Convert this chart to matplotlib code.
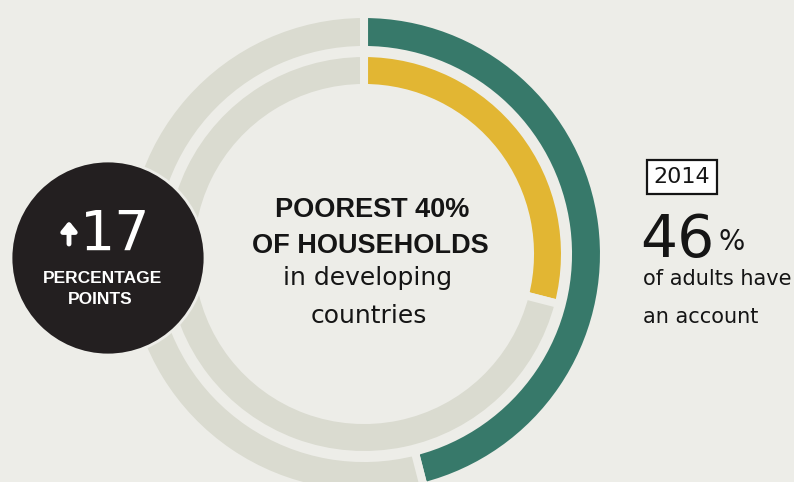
import matplotlib
matplotlib.use("Agg")
import matplotlib.pyplot as plt
from matplotlib.patches import Circle

# data
ring_labels = ["2014", "2011"]
outer_values = [46, 54]   # share of adults with an account (outer ring)
inner_values = [29, 71]   # inner ring
change_pts = 17

bg = "#EDEDE8"
gray = "#DADBD0"
green = "#37796A"
yellow = "#E2B633"
dark = "#231F20"
ink = "#151515"

W, H = 794, 482
fig = plt.figure(figsize=(W / 100, H / 100), dpi=100, facecolor=bg)
ax = fig.add_axes([0, 0, 1, 1])
ax.set_facecolor(bg)

cx, cy = 364, H - 254
gap_lw = 5.8

ax.pie(outer_values, colors=[green, gray], startangle=90, counterclock=False,
       radius=240, center=(cx, cy),
       wedgeprops=dict(width=36, edgecolor=bg, linewidth=gap_lw))
ax.pie(inner_values, colors=[yellow, gray], startangle=90, counterclock=False,
       radius=201, center=(cx, cy),
       wedgeprops=dict(width=35, edgecolor=bg, linewidth=gap_lw))

ax.add_patch(Circle((108, H - 258), 97, facecolor=dark, edgecolor=bg, lw=2, zorder=5))

ax.set_xlim(0, W)
ax.set_ylim(0, H)
ax.set_aspect("equal")
ax.axis("off")

bold = "Liberation Sans"
light = "DejaVu Sans"

# centre label
ax.text(372, H - 217, "POOREST 40%", ha="center", va="baseline", fontsize=19.5,
        family=bold, weight="bold", color=ink)
ax.text(370, H - 253, "OF HOUSEHOLDS", ha="center", va="baseline", fontsize=19.5,
        family=bold, weight="bold", color=ink)
ax.text(368, H - 285, "in developing", ha="center", va="baseline", fontsize=18,
        family=light, color=ink)
ax.text(369, H - 323, "countries", ha="center", va="baseline", fontsize=18,
        family=light, color=ink)

# change bubble
ax.annotate("", xy=(69, H - 221), xytext=(69, H - 244),
            arrowprops=dict(arrowstyle="-|>,head_width=0.45,head_length=0.55",
                            color="white", lw=3.5, shrinkA=0, shrinkB=0), zorder=6)
ax.text(80, H - 250, str(change_pts), ha="left", va="baseline", fontsize=40,
        family=light, color="white", zorder=6)
ax.text(102, H - 283, "PERCENTAGE", ha="center", va="baseline", fontsize=12.5,
        family=bold, weight="bold", color="white", zorder=6)
ax.text(100, H - 304, "POINTS", ha="center", va="baseline", fontsize=12.5,
        family=bold, weight="bold", color="white", zorder=6)

# right annotation
ax.text(682, H - 177, ring_labels[0], ha="center", va="center", fontsize=16,
        family=light, color=ink,
        bbox=dict(boxstyle="square,pad=0.32", facecolor="white", edgecolor=ink, lw=1.6))
ax.text(640, H - 257, str(outer_values[0]), ha="left", va="baseline", fontsize=42,
        family=light, color=ink)
ax.text(719, H - 250, "%", ha="left", va="baseline", fontsize=20,
        family=light, color=ink)
ax.text(643, H - 285, "of adults have", ha="left", va="baseline", fontsize=15,
        family=light, color=ink)
ax.text(643, H - 323, "an account", ha="left", va="baseline", fontsize=15,
        family=light, color=ink)

fig.savefig("out.png", dpi=100, facecolor=bg)
